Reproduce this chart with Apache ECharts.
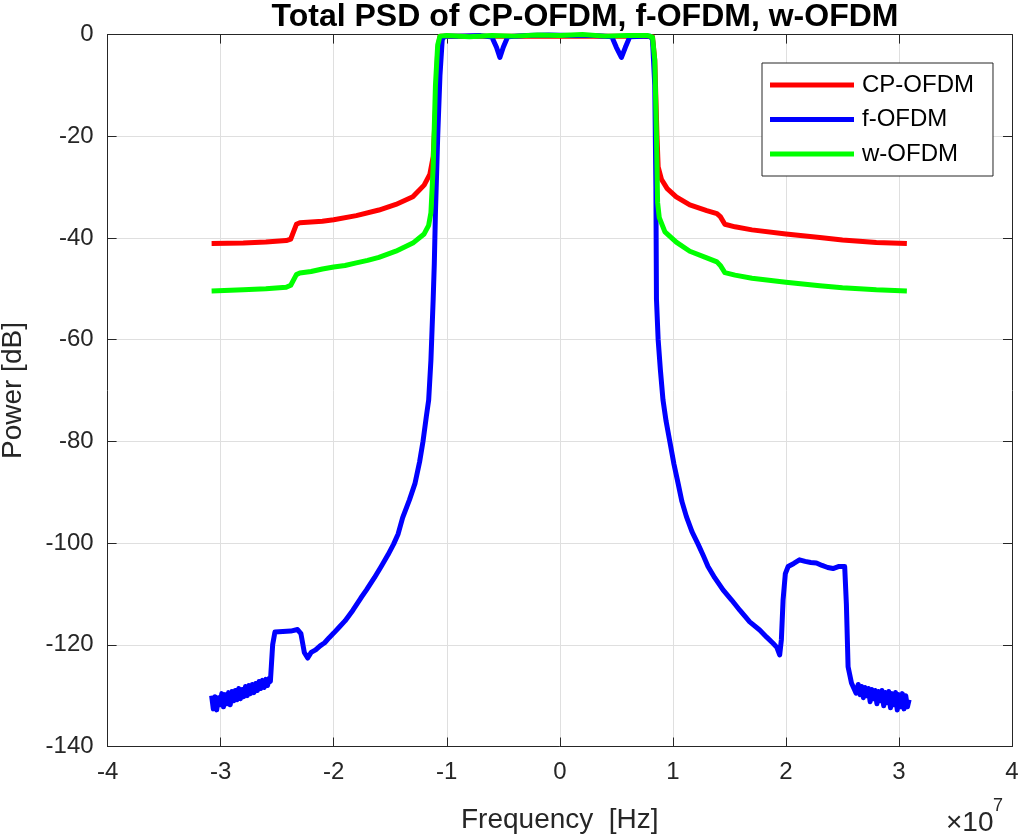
<!DOCTYPE html>
<html>
<head>
<meta charset="utf-8">
<script src="https://cdn.jsdelivr.net/npm/echarts@6/dist/echarts.min.js"></script>
<style>
html,body{margin:0;padding:0;background:#fff;}
#chart{width:1020px;height:839px;}
</style>
</head>
<body>
<div id="chart"></div>
<script>
// Frequency values in units of 1e7 Hz, power in dB
const seriesNames = ['CP-OFDM', 'f-OFDM', 'w-OFDM'];
const xTicks = [-4, -3, -2, -1, 0, 1, 2, 3, 4];
const yTicks = [-140, -120, -100, -80, -60, -40, -20, 0];

const cpFreq = [-3.08,-2.8,-2.6,-2.42,-2.38,-2.33,-2.3,-2.1,-2.0,-1.8,-1.6,-1.45,-1.3,-1.2,-1.15,-1.12,-1.10,-1.08,-1.06,
  -0.8,-0.5,-0.2,0.1,0.4,0.7,0.82,0.84,0.86,0.87,0.9,0.95,1.03,1.15,1.3,1.39,1.42,1.46,1.55,1.7,2.0,2.3,2.5,2.8,3.07];
const cpPower = [-41.1,-41.0,-40.8,-40.5,-40.2,-37.3,-37.0,-36.7,-36.4,-35.6,-34.5,-33.4,-31.9,-29.6,-27.5,-24,-15,-3,-0.3,
  -0.3,-0.3,-0.3,-0.3,-0.3,-0.3,-0.4,-5,-20,-26,-28.5,-30.3,-31.9,-33.5,-34.6,-35.2,-35.8,-37.3,-37.8,-38.4,-39.2,-39.9,-40.4,-40.9,-41.1];

const fFreq = [-3.08,-3.065,-3.05,-3.035,-3.02,-3.005,-2.99,-2.975,-2.96,-2.945,-2.93,-2.915,-2.90,-2.885,-2.87,-2.855,-2.84,-2.825,-2.81,-2.795,
  -2.78,-2.765,-2.75,-2.735,-2.72,-2.705,-2.69,-2.675,-2.66,-2.645,-2.63,-2.615,-2.60,-2.585,-2.57,-2.56,
  -2.54,-2.52,-2.45,-2.38,-2.32,-2.29,-2.26,-2.23,-2.20,-2.16,-2.12,-2.08,-2.04,-2.0,-1.95,-1.9,-1.83,-1.76,-1.71,-1.64,-1.58,
  -1.52,-1.47,-1.43,-1.39,-1.33,-1.28,-1.24,-1.21,-1.18,-1.16,-1.14,-1.13,-1.12,-1.11,-1.10,-1.08,-1.06,-1.04,-1.02,
  -0.9,-0.7,-0.6,-0.56,-0.53,-0.50,-0.46,-0.3,-0.1,0.1,0.3,0.46,0.5,0.545,0.58,0.62,0.8,0.82,
  0.84,0.85,0.855,0.87,0.89,0.913,0.94,0.973,1.01,1.046,1.08,1.12,1.17,1.223,1.27,1.311,1.37,1.444,1.52,1.592,1.68,1.768,
  1.83,1.886,1.92,1.945,1.96,1.975,1.995,2.02,2.07,2.12,2.17,2.22,2.27,2.32,2.37,2.417,2.47,2.52,2.535,2.55,2.58,2.62,
  2.64,2.655,2.67,2.685,2.70,2.715,2.73,2.745,2.76,2.775,2.79,2.805,2.82,2.835,2.85,2.865,2.88,2.895,2.91,2.925,
  2.94,2.955,2.97,2.985,3.00,3.015,3.03,3.045,3.06,3.075,3.09];
const fPower = [-130.0,-132.6,-130.2,-132.8,-130.4,-131.8,-129.6,-132.2,-129.8,-131.6,-129.4,-131.8,-129.2,-131.0,-129.0,-130.8,-128.6,-130.6,-128.8,-130.2,
  -128.2,-130.0,-128.0,-129.6,-127.8,-129.4,-127.6,-129.0,-127.2,-128.6,-127.0,-128.4,-126.8,-128.0,-126.6,-127.2,
  -120,-117.5,-117.4,-117.3,-117.0,-117.8,-121.5,-122.6,-121.5,-121.0,-120.2,-119.6,-118.6,-117.7,-116.5,-115.3,-113.2,-110.8,-109.2,-106.8,-104.6,
  -102.3,-100.2,-98.2,-95.0,-91.5,-88.2,-84.0,-80,-75,-71.9,-64,-58,-52,-45,-35,-20,-8,-1,-0.3,
  -0.3,-0.2,-0.5,-2.5,-4.5,-2.5,-0.4,-0.2,-0.1,-0.2,-0.2,-0.4,-2.5,-4.5,-2.5,-0.4,-0.3,-1,
  -10,-30,-52,-60,-66,-71.9,-76,-80,-84.5,-88.2,-91.8,-94.8,-97.8,-100.2,-102.5,-104.6,-106.8,-109.2,-111.2,-113.2,-115.5,-117.1,
  -118.5,-119.7,-120.5,-122,-119,-111.2,-106,-104.6,-104.0,-103.3,-103.6,-103.8,-103.9,-104.4,-104.8,-105,-104.6,-104.6,-112,-124.3,-127.5,-129.5,
  -127.8,-129.8,-128.2,-130.4,-128.4,-130.0,-128.6,-131.2,-128.8,-130.6,-129.0,-131.6,-129.2,-131.0,-129.0,-132.0,-129.4,-131.4,-129.2,-132.4,
  -129.6,-131.8,-129.4,-132.8,-129.8,-132.2,-129.6,-132.6,-130.0,-132.2,-130.8];

const wFreq = [-3.08,-2.8,-2.6,-2.42,-2.38,-2.33,-2.3,-2.2,-2.1,-2.0,-1.9,-1.8,-1.7,-1.6,-1.45,-1.3,-1.2,-1.16,-1.14,-1.12,-1.10,-1.08,-1.06,
  -1.0,-0.8,-0.6,-0.4,-0.2,0,0.2,0.4,0.6,0.78,0.82,0.84,0.855,0.865,0.88,0.93,1.03,1.15,1.3,1.39,1.42,1.46,1.55,1.7,2.0,2.3,2.5,2.8,3.07];
const wPower = [-50.4,-50.2,-50.0,-49.7,-49.3,-47.2,-46.9,-46.6,-46.1,-45.7,-45.4,-44.9,-44.4,-43.8,-42.6,-41.0,-39.2,-37.5,-35,-26,-10,-2,-0.3,
  -0.2,-0.4,-0.2,-0.3,-0.1,-0.2,0.0,-0.3,-0.2,-0.2,-0.5,-5,-20,-33,-36,-38.8,-40.8,-42.6,-43.9,-44.7,-45.4,-46.8,-47.3,-47.9,-48.7,-49.4,-49.8,-50.2,-50.4];

const colors = ['#ff0000', '#0000ff', '#00ff00'];
const zip = (xs, ys) => xs.map((x, i) => [x, ys[i]]);
const seriesData = [zip(cpFreq, cpPower), zip(fFreq, fPower), zip(wFreq, wPower)];

const FONT = 'Liberation Sans, Arial, sans-serif';
const axisCol = '#262626';
const chart = echarts.init(document.getElementById('chart'), null, {renderer: 'canvas'});

const xBase = {
  type: 'value', min: -4, max: 4, interval: 1,
  axisLine: {show: true, onZero: false, lineStyle: {color: axisCol, width: 1}},
  axisTick: {show: true, inside: true, length: 9, lineStyle: {color: axisCol}},
};
const yBase = {
  type: 'value', min: -140, max: 0, interval: 20,
  axisLine: {show: true, onZero: false, lineStyle: {color: axisCol, width: 1}},
  axisTick: {show: true, inside: true, length: 9, lineStyle: {color: axisCol}},
};

chart.setOption({
  animation: false,
  backgroundColor: '#ffffff',
  title: {
    text: 'Total PSD of CP-OFDM, f-OFDM, w-OFDM',
    left: 580, top: -4, textAlign: 'center',
    textStyle: {fontFamily: FONT, fontWeight: 'bold', fontSize: 32, color: '#000'}
  },
  grid: {left: 107.6, right: 8, top: 34.6, bottom: 92.5, containLabel: false, outerBoundsMode: 'none'},
  legend: {
    data: seriesNames,
    orient: 'vertical',
    left: 762, top: 63,
    icon: 'rect', itemWidth: 84, itemHeight: 5, itemGap: 6.5,
    padding: [8, 19, 8, 8],
    borderColor: axisCol, borderWidth: 1, backgroundColor: '#ffffff',
    textStyle: {fontFamily: FONT, fontSize: 24, color: '#000', padding: [0, 0, 0, 3], lineHeight: 28},
    z: 10
  },
  xAxis: [
    Object.assign({}, xBase, {
      position: 'bottom',
      name: 'Frequency  [Hz]', nameLocation: 'middle', nameGap: 60,
      nameTextStyle: {fontFamily: FONT, fontSize: 28, color: axisCol},
      axisLabel: {fontFamily: FONT, fontSize: 24, color: axisCol, margin: 14, formatter: v => String(v)},
      splitLine: {show: true, lineStyle: {color: '#dfdfdf', width: 1}}
    }),
    Object.assign({}, xBase, {
      position: 'top', axisLabel: {show: false}, splitLine: {show: false}
    })
  ],
  yAxis: [
    Object.assign({}, yBase, {
      position: 'left',
      name: 'Power [dB]', nameLocation: 'middle', nameGap: 80,
      nameTextStyle: {fontFamily: FONT, fontSize: 28, color: axisCol},
      axisLabel: {fontFamily: FONT, fontSize: 24, color: axisCol, margin: 14, formatter: v => String(v)},
      splitLine: {show: true, lineStyle: {color: '#dfdfdf', width: 1}}
    }),
    Object.assign({}, yBase, {
      position: 'right', axisLabel: {show: false}, splitLine: {show: false}
    })
  ],
  graphic: [
    {type: 'text', left: 946, top: 809, style: {text: '×10', fontFamily: FONT, fontSize: 28, fill: axisCol}},
    {type: 'text', left: 993, top: 797, style: {text: '7', fontFamily: FONT, fontSize: 18, fill: axisCol}}
  ],
  series: seriesNames.map((name, i) => ({
    name: name,
    type: 'line',
    data: seriesData[i],
    showSymbol: false,
    symbol: 'none',
    smooth: false,
    lineStyle: {color: colors[i], width: 5, join: 'round'},
    itemStyle: {color: colors[i]},
    z: 2 + i
  }))
});
</script>
</body>
</html>
